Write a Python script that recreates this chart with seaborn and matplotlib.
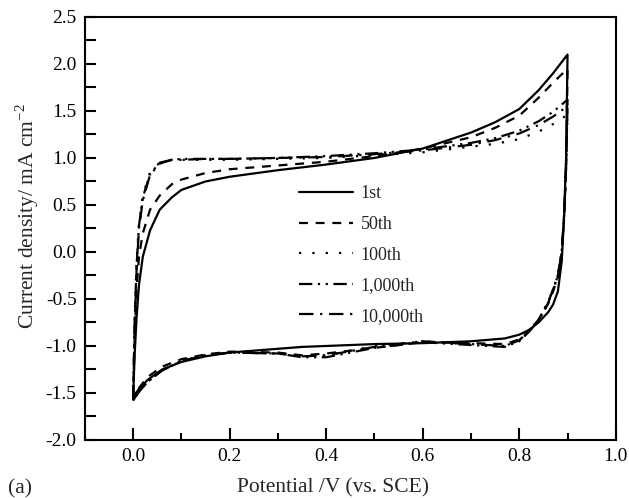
import matplotlib
matplotlib.use('Agg')
import matplotlib.pyplot as plt
import seaborn as sns
import pandas as pd
from matplotlib.ticker import MultipleLocator

# potentials for the anodic (forward) and cathodic (reverse) sweeps
fwd_potential = [0, 0.003, 0.007, 0.012, 0.02, 0.035, 0.055, 0.08, 0.1, 0.15,
                 0.2, 0.3, 0.4, 0.5, 0.6, 0.7, 0.75, 0.8, 0.84, 0.87, 0.9]
rev_potential = [0.897, 0.893, 0.888, 0.88, 0.87, 0.86, 0.84, 0.82, 0.8, 0.77,
                 0.7, 0.6, 0.5, 0.4, 0.35, 0.3, 0.2, 0.15, 0.1, 0.06, 0.03, 0.01, 0]

cycles = ['1st', '50th', '100th', '1,000th', '10,000th']

fwd_current = {
    '1st': [-1.54, -1.1, -0.7, -0.35, -0.05, 0.23, 0.45, 0.58, 0.66, 0.75,
            0.8, 0.87, 0.93, 1.0, 1.1, 1.27, 1.38, 1.52, 1.72, 1.9, 2.1],
    '50th': [-1.56, -0.9, -0.4, -0.05, 0.2, 0.45, 0.6, 0.72, 0.77, 0.84,
             0.88, 0.92, 0.96, 1.02, 1.1, 1.22, 1.32, 1.45, 1.64, 1.8, 1.95],
    '100th': [-1.58, -0.7, -0.1, 0.3, 0.6, 0.85, 0.95, 0.98, 0.98, 0.98,
              0.98, 0.99, 1.0, 1.03, 1.06, 1.12, 1.15, 1.2, 1.28, 1.36, 1.46],
    '1,000th': [-1.57, -0.75, -0.15, 0.28, 0.58, 0.83, 0.95, 0.98, 0.99, 0.99,
                0.99, 1.0, 1.02, 1.05, 1.09, 1.16, 1.21, 1.29, 1.39, 1.49, 1.62],
    '10,000th': [-1.57, -0.8, -0.2, 0.25, 0.55, 0.82, 0.94, 0.98, 0.98, 0.99,
                 0.99, 1.0, 1.01, 1.04, 1.08, 1.14, 1.19, 1.26, 1.35, 1.44, 1.55],
}

rev_current = {
    '1st': [1.0, 0.4, -0.1, -0.42, -0.56, -0.64, -0.75, -0.83, -0.88, -0.92,
            -0.95, -0.97, -0.98, -1.0, -1.01, -1.03, -1.07, -1.11, -1.17, -1.25, -1.36, -1.47, -1.54],
    '50th': [0.9, 0.35, 0.0, -0.27, -0.42, -0.55, -0.73, -0.84, -0.93, -0.98,
             -0.97, -0.96, -1.02, -1.08, -1.1, -1.07, -1.06, -1.09, -1.14, -1.22, -1.33, -1.46, -1.55],
    '100th': [0.9, 0.4, 0.0, -0.25, -0.4, -0.53, -0.72, -0.84, -0.94, -1.0,
              -0.98, -0.95, -1.0, -1.1, -1.11, -1.08, -1.07, -1.1, -1.16, -1.26, -1.38, -1.5, -1.58],
    '1,000th': [0.9, 0.4, 0.0, -0.25, -0.4, -0.54, -0.73, -0.85, -0.95, -1.01,
                -0.99, -0.96, -1.02, -1.12, -1.12, -1.08, -1.07, -1.1, -1.16, -1.26, -1.38, -1.5, -1.58],
    '10,000th': [0.9, 0.4, 0.0, -0.25, -0.4, -0.53, -0.72, -0.84, -0.94, -1.0,
                 -0.98, -0.95, -1.01, -1.1, -1.11, -1.08, -1.07, -1.1, -1.16, -1.26, -1.38, -1.5, -1.57],
}

line_styles = {
    '1st': '-',
    '50th': (0, (4, 3.5)),
    '100th': (0, (1, 5)),
    '1,000th': (0, (6, 2.5, 1, 2.5, 1, 2.5)),
    '10,000th': (0, (6.5, 3, 1, 3)),
}

sns.set_style('ticks')
plt.rcParams['font.family'] = ['Liberation Serif', 'DejaVu Serif']
plt.rcParams['axes.unicode_minus'] = False
plt.rcParams['mathtext.fontset'] = 'custom'
plt.rcParams['mathtext.rm'] = 'Liberation Serif'

fig = plt.figure(figsize=(6.29, 4.98), dpi=100)
ax = fig.add_axes([0.135, 0.1165, 0.844, 0.8495])

for cyc in cycles:
    df = pd.DataFrame({
        'potential': fwd_potential + rev_potential,
        'current': fwd_current[cyc] + rev_current[cyc],
    })
    sns.lineplot(data=df, x='potential', y='current', ax=ax, sort=False,
                 estimator=None, color='black', linewidth=1.6,
                 linestyle=line_styles[cyc], label=cyc)

ax.set_xlim(-0.1, 1.0)
ax.set_ylim(-2.0, 2.5)
ax.xaxis.set_major_locator(MultipleLocator(0.2))
ax.xaxis.set_minor_locator(MultipleLocator(0.1))
ax.yaxis.set_major_locator(MultipleLocator(0.5))
ax.yaxis.set_minor_locator(MultipleLocator(0.25))
ax.tick_params(which='both', direction='in', top=False, right=False,
               labelsize=14, width=1.5, colors='black', pad=6)
ax.tick_params(axis='x', which='major', length=9)
ax.tick_params(axis='x', which='minor', length=5)
ax.tick_params(axis='y', which='both', length=8)
ax.xaxis.set_major_formatter(plt.FormatStrFormatter('%.1f'))
ax.yaxis.set_major_formatter(plt.FormatStrFormatter('%.1f'))
for s in ax.spines.values():
    s.set_linewidth(1.5)
    s.set_color('black')

ax.set_xlabel('Potential /V (vs. SCE)', fontsize=15.5)
ax.set_ylabel('Current density/ mA cm$^{-2}$', fontsize=15.5)
ax.xaxis.set_label_coords(0.467, -0.09)
ax.yaxis.set_label_coords(-0.083, 0.53)
fig.text(0.013, 0.01, '(a)', fontsize=15.5)

ax.legend(loc='upper left', bbox_to_anchor=(0.3735, 0.64), frameon=False,
          fontsize=13, handlelength=2.95, handletextpad=0.45, labelspacing=0.75)

fig.savefig('out.png', dpi=100)
